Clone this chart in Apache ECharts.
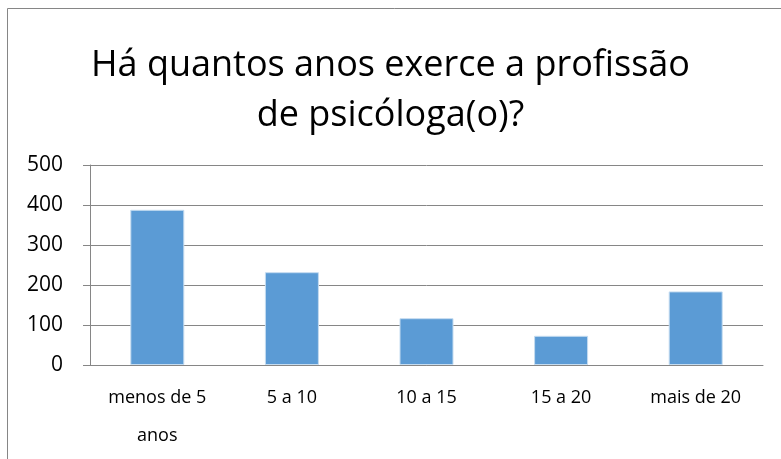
<!DOCTYPE html>
<html>
<head>
<meta charset="utf-8">
<script src="https://cdn.jsdelivr.net/npm/echarts@6/dist/echarts.min.js"></script>
<style>
  html, body { margin: 0; padding: 0; background: #fff; }
  #chart { width: 781px; height: 459px; }
</style>
</head>
<body>
<div id="chart"></div>
<script>
// dados
const categories = ['menos de 5\nanos', '5 a 10', '10 a 15', '15 a 20', 'mais de 20']
const values = [388, 232, 117, 73, 184]
const yTicks = [0, 100, 200, 300, 400, 500]

const font = 'Open Sans'
const chart = echarts.init(document.getElementById('chart'))
chart.setOption({
  animation: false,
  title: {
    text: 'Há quantos anos exerce a profissão\nde psicóloga(o)?',
    left: 'center',
    top: 36,
    textStyle: {
      fontFamily: font,
      fontSize: 36,
      fontWeight: 'normal',
      color: '#000',
      lineHeight: 50
    }
  },
  graphic: [{
    type: 'rect',
    shape: { x: 7.5, y: 8.5, width: 800, height: 500 },
    style: { fill: 'none', stroke: '#868686', lineWidth: 1 },
    silent: true
  }],
  grid: { left: 90, right: 18, top: 165, bottom: 94 },
  xAxis: {
    type: 'category',
    data: categories,
    axisLine: { lineStyle: { color: '#868686' } },
    axisTick: { length: 6, lineStyle: { color: '#868686' } },
    axisLabel: {
      fontFamily: font,
      fontSize: 18,
      color: '#000',
      margin: 14,
      lineHeight: 38,
      interval: 0
    }
  },
  yAxis: {
    type: 'value',
    min: yTicks[0],
    max: yTicks[yTicks.length - 1],
    interval: 100,
    axisLine: { show: true, lineStyle: { color: '#868686' } },
    axisTick: { show: true, length: 7, lineStyle: { color: '#868686' } },
    splitLine: { lineStyle: { color: '#868686' } },
    axisLabel: {
      fontFamily: font,
      fontSize: 21,
      color: '#000',
      margin: 27
    }
  },
  series: [{
    type: 'bar',
    data: values,
    barWidth: 54,
    itemStyle: {
      color: '#5B9BD5',
      borderColor: '#C5DCF0',
      borderWidth: 1
    }
  }]
})
</script>
</body>
</html>
